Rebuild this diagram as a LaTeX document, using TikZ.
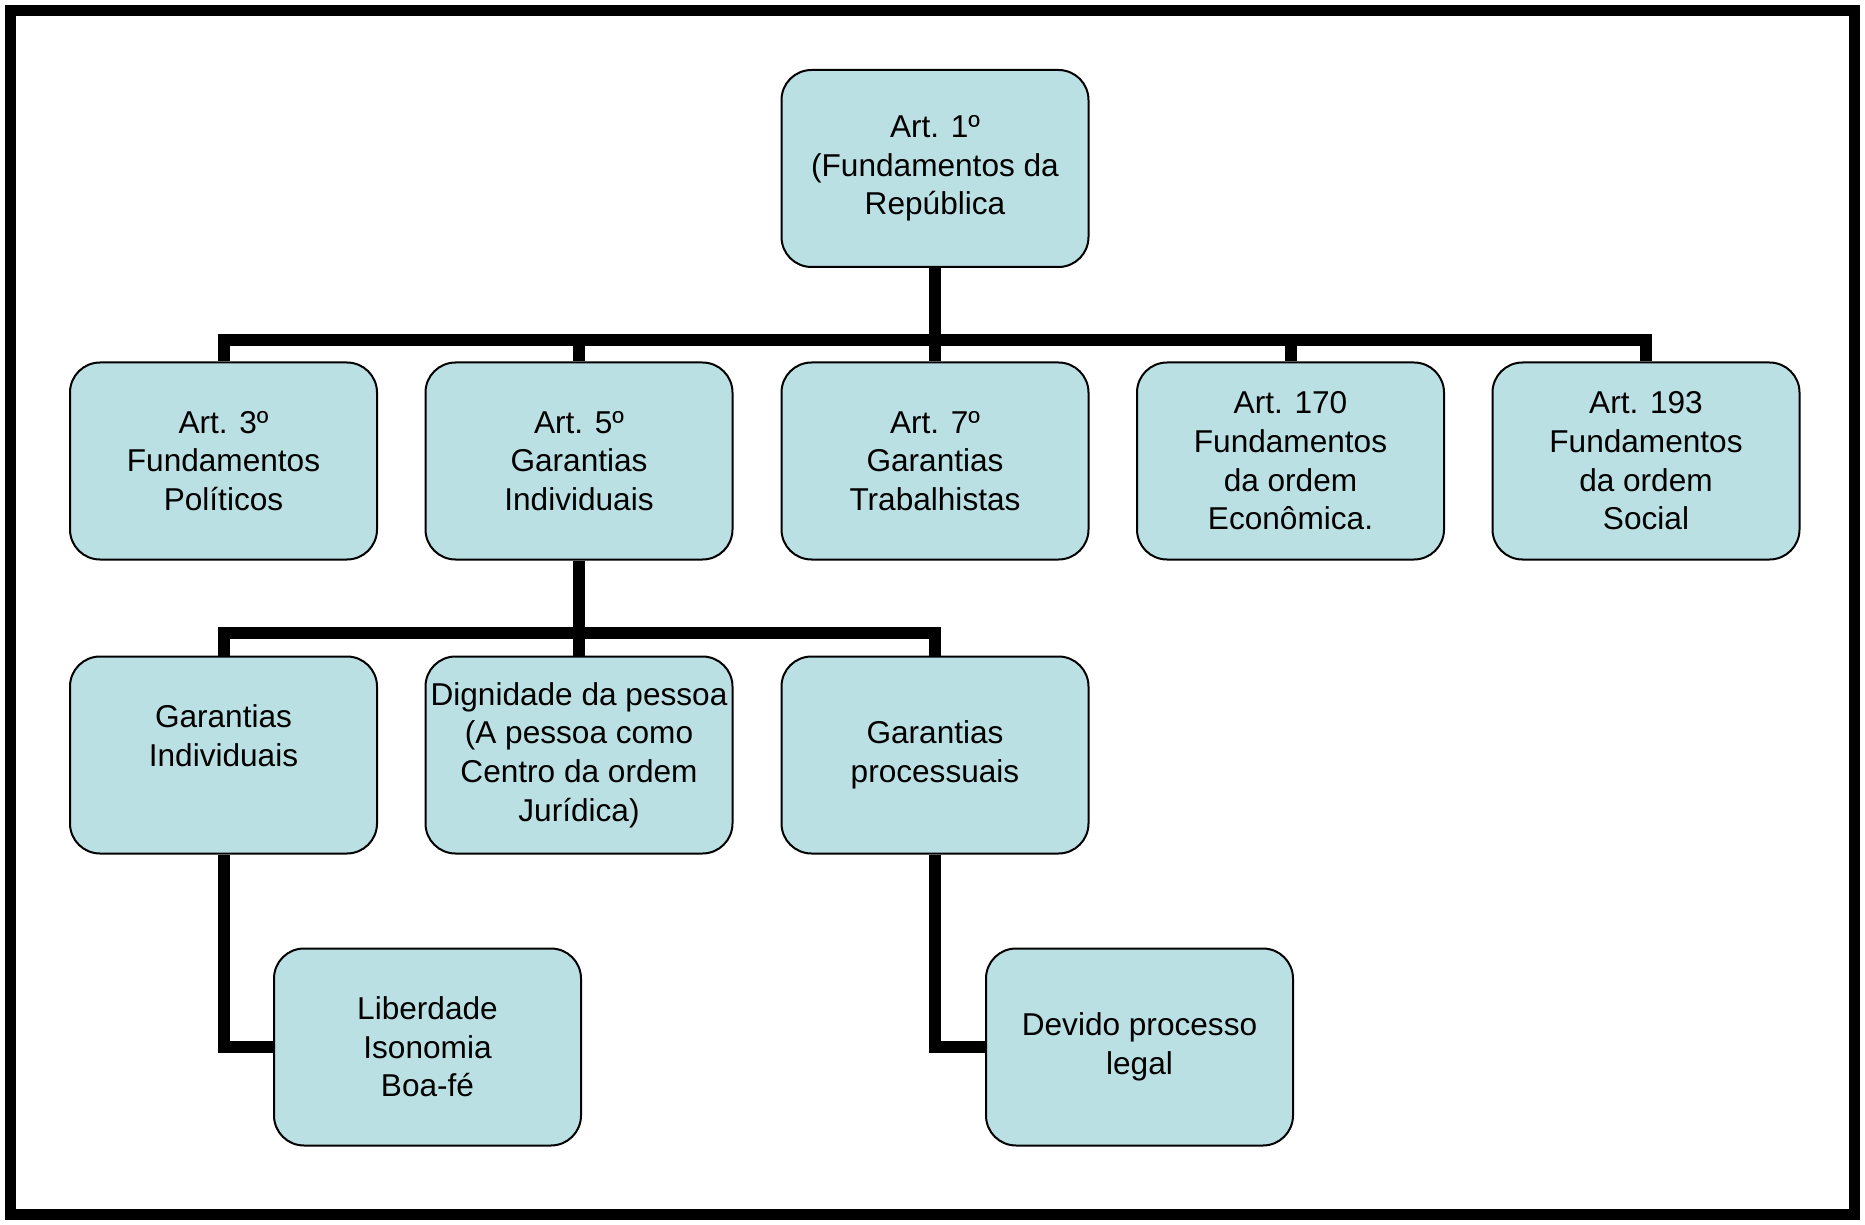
\documentclass[tikz,border=0pt]{standalone}
\usepackage{fontspec}
\setmainfont{Liberation Sans}
\definecolor{boxfill}{HTML}{BBE0E3}
\tikzset{
	artbox/.style={draw=black, line width=1pt, fill=boxfill, rounded corners=15pt,
		minimum width=153.5pt, minimum height=98.5pt, inner sep=1pt, align=center,
		font=\fontsize{15.8}{19.3}\selectfont},
	link/.style={line width=6pt, line join=miter}
}
\begin{document}
\begin{tikzpicture}[x=0.5pt, y=-0.5pt]
	\useasboundingbox (0,0) rectangle (1865,1225);
	\draw[line width=5.5pt] (10.5,10.5) rectangle (1854.5,1214.5);

	% top level
	\node[artbox] (art1) at (935,168.5) {Art. 1º\\(Fundamentos da\\República};

	% articles
	\node[artbox] (art3) at (223.5,461) {Art. 3º\\Fundamentos\\Políticos};
	\node[artbox] (art5) at (579,461) {Art. 5º\\Garantias\\Individuais};
	\node[artbox] (art7) at (935,461) {Art. 7º\\Garantias\\Trabalhistas};
	\node[artbox] (art170) at (1290.5,461) {Art. 170\\Fundamentos\\da ordem\\Econômica.};
	\node[artbox] (art193) at (1646,461) {Art. 193\\Fundamentos\\da ordem\\Social};

	% guarantees
	\node[artbox] (gind) at (223.5,755) {Garantias\\Individuais\\\mbox{}};
	\node[artbox] (dign) at (579,755) {Dignidade da pessoa\\(A pessoa como\\Centro da ordem\\Jurídica)};
	\node[artbox] (gproc) at (935,755) {Garantias\\processuais};

	\node[artbox] (lib) at (427.5,1047) {Liberdade\\Isonomia\\Boa-fé};
	\node[artbox] (devido) at (1139.5,1047) {Devido processo\\legal};

	% connectors
	\coordinate (bus1) at (935,340);
	\coordinate (bus2) at (579,633);
	\draw[link] (art1.south) -- (bus1);
	\draw[link] (art3.north) |- (bus1) -| (art193.north);
	\draw[link] (art5.north) -- (art5.north |- bus1);
	\draw[link] (art7.north) -- (bus1);
	\draw[link] (art170.north) -- (art170.north |- bus1);

	\draw[link] (art5.south) -- (bus2);
	\draw[link] (gind.north) |- (bus2) -| (gproc.north);
	\draw[link] (dign.north) -- (bus2);

	\draw[link] (gind.south) |- (lib.west);
	\draw[link] (gproc.south) |- (devido.west);
\end{tikzpicture}
\end{document}
